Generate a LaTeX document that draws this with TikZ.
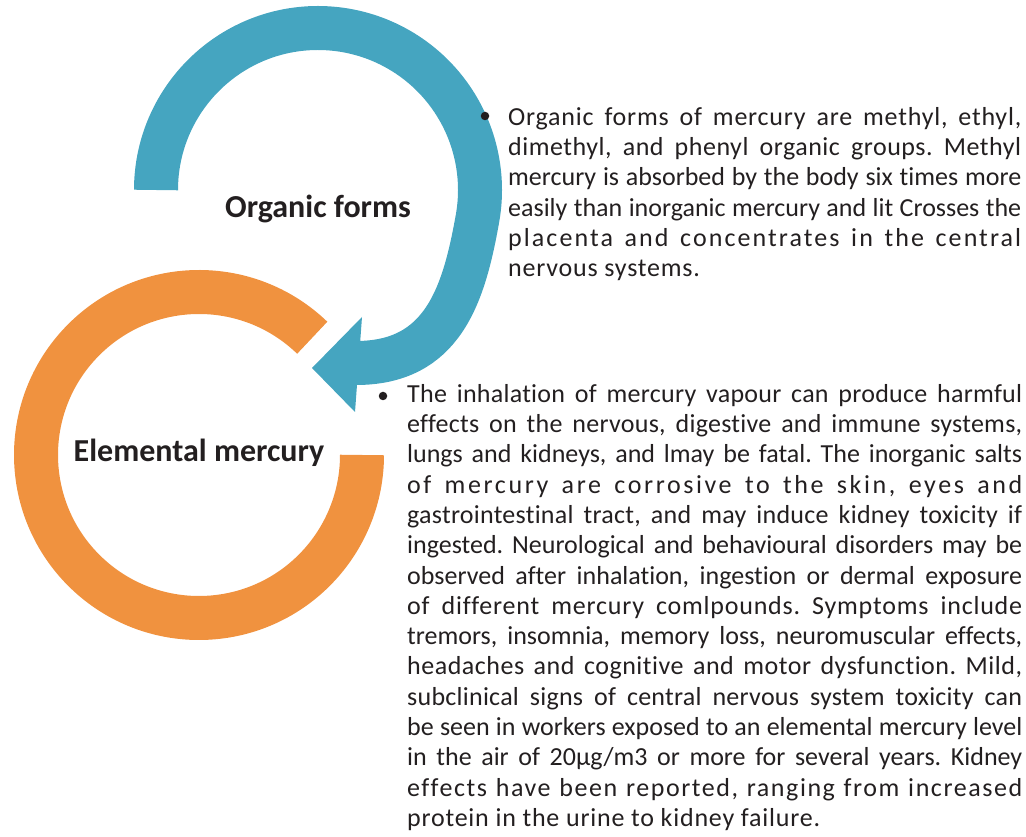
\documentclass[tikz,border=0pt]{standalone}
\usepackage{fontspec}
\setmainfont{Carlito}[Ligatures=NoCommon]
\definecolor{ringblue}{RGB}{69,165,192}
\definecolor{ringorange}{RGB}{240,146,63}
\definecolor{inkdark}{RGB}{35,31,32}
\newlength{\jwidth}
\newcommand{\jl}[2][0]{\makebox[\jwidth][s]{\addfontfeature{LetterSpace=#1}#2}\\}
\frenchspacing
\begin{document}
\begin{tikzpicture}[x=1pt,y=1pt,
	ring/.style={line width=44pt},
	formlabel/.style={anchor=base, inner sep=0pt, text=inkdark, font=\fontsize{32}{36}\selectfont\bfseries},
	bodytext/.style={anchor=north west, inner sep=0pt, align=left, text=inkdark,
		font=\fontsize{26}{30.3}\selectfont, execute at begin node={\setlength{\jwidth}{#1}}},
	bulletdot/.style={circle, fill=inkdark, inner sep=0pt, minimum size=8.5pt}]
	\useasboundingbox (0,0) rectangle (1026,836);
	\draw[ring, ringorange] (199,381) ++(46:163) arc[start angle=46, end angle=360, radius=163];
	\draw[ring, ringblue] (156,646) arc[start angle=180, end angle=-10, radius=162]
		.. controls (463.6,539.1) and (442,473) .. (356,473);
	\fill[ringblue] (362,519) -- (312,468) -- (355,424) -- cycle;
	\draw (318,618) node[formlabel] (organic) {Organic forms};
	\draw (199,374) node[formlabel] (elemental) {Elemental mercury};
	\draw (485,720) node[bulletdot] (dotorg) {};
	\draw (508,729) node[bodytext=513pt] (orgtext) {%
		\jl[3]{Organic forms of mercury are methyl, ethyl,}
		\jl[2]{dimethyl, and phenyl organic groups. Methyl}
		\jl{mercury is absorbed by the body six times more}
		\jl{easily than inorganic mercury and lit Crosses the}
		\jl[8]{placenta and concentrates in the central}
		{\addfontfeature{LetterSpace=3}nervous systems.}};
	\draw (383,440) node[bulletdot] (dotelem) {};
	\draw (407,452) node[bodytext=615pt] (elemtext) {%
		\jl[1]{The inhalation of mercury vapour can produce harmful}
		\jl[1]{effects on the nervous, digestive and immune systems,}
		\jl{lungs and kidneys, and lmay be fatal. The inorganic salts}
		\jl[10]{of mercury are corrosive to the skin, eyes and}
		\jl[1]{gastrointestinal tract, and may induce kidney toxicity if}
		\jl{ingested. Neurological and behavioural disorders may be}
		\jl{observed after inhalation, ingestion or dermal exposure}
		\jl[3]{of different mercury comlpounds. Symptoms include}
		\jl{tremors, insomnia, memory loss, neuromuscular effects,}
		\jl[2]{headaches and cognitive and motor dysfunction. Mild,}
		\jl[1]{subclinical signs of central nervous system toxicity can}
		\jl{be seen in workers exposed to an elemental mercury level}
		\jl{in the air of 20µg/m3 or more for several years. Kidney}
		\jl[6]{effects have been reported, ranging from increased}
		{\addfontfeature{LetterSpace=3}protein in the urine to kidney failure.}};
\end{tikzpicture}
\end{document}
